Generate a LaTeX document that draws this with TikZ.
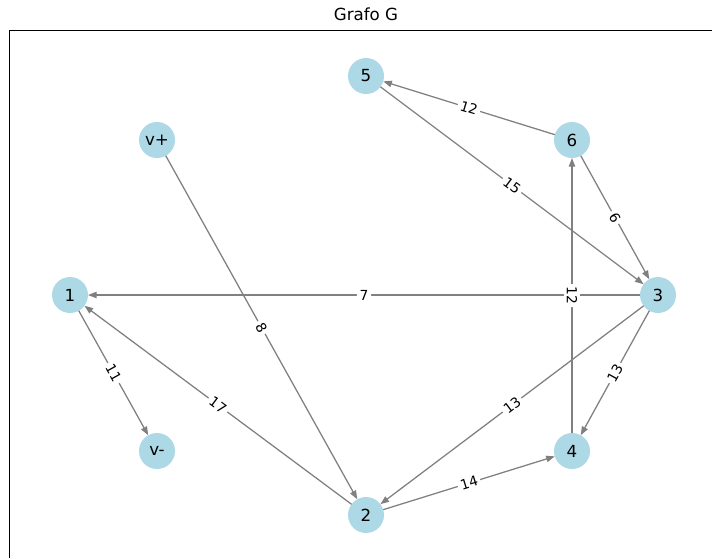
\documentclass[tikz,border=0pt]{standalone}
\usepackage{fontspec}
\setmainfont{DejaVu Sans}
\usetikzlibrary{arrows.meta}
\definecolor{nodeblue}{RGB}{173,216,230}
\definecolor{edgegray}{RGB}{128,128,128}
\begin{document}
\begin{tikzpicture}[x=0.75pt,y=-0.75pt,
  vertex/.style={circle,fill=nodeblue,draw=none,minimum size=27pt,inner sep=0pt,outer sep=0pt,
    font=\fontsize{12.5}{14}\selectfont},
  edge/.style={draw=edgegray,line width=0.95pt,-{Triangle[length=6.5pt,width=4.8pt]}},
  weight/.style={fill=white,inner sep=2pt,rounded corners=2pt,sloped,
    font=\fontsize{10.4}{12}\selectfont,text=black}]
  \useasboundingbox (0,0) rectangle (712,558);
  % title and axes frame
  \node (title) at (366,14) {\fontsize{12.5}{14}\selectfont Grafo G};
  \draw[black,line width=0.8pt] (9.5,558) -- (9.5,30.5) -- (712,30.5);
  % vertices
  \node[vertex] (n5) at (366,76) {5};
  \node[vertex] (n6) at (572,140) {6};
  \node[vertex] (vp) at (157,140) {v+};
  \node[vertex] (n1) at (70,295) {1};
  \node[vertex] (n3) at (658,295) {3};
  \node[vertex] (vm) at (157,451) {v-};
  \node[vertex] (n4) at (572,451) {4};
  \node[vertex] (n2) at (366,515) {2};
  % weighted arcs
  \draw[edge] (n6) -- node[weight] {12} (n5);
  \draw[edge] (n5) -- node[weight] {15} (n3);
  \draw[edge] (n6) -- node[weight] {6} (n3);
  \draw[edge] (n3) -- node[weight] {7} (n1);
  \draw[edge] (n4) -- node[weight,rotate=180] {12} (n6);
  \draw[edge] (n3) -- node[weight] {13} (n4);
  \draw[edge] (n3) -- node[weight] {13} (n2);
  \draw[edge] (n2) -- node[weight] {14} (n4);
  \draw[edge] (n2) -- node[weight] {17} (n1);
  \draw[edge] (n1) -- node[weight] {11} (vm);
  \draw[edge] (vp) -- node[weight] {8} (n2);
\end{tikzpicture}
\end{document}
